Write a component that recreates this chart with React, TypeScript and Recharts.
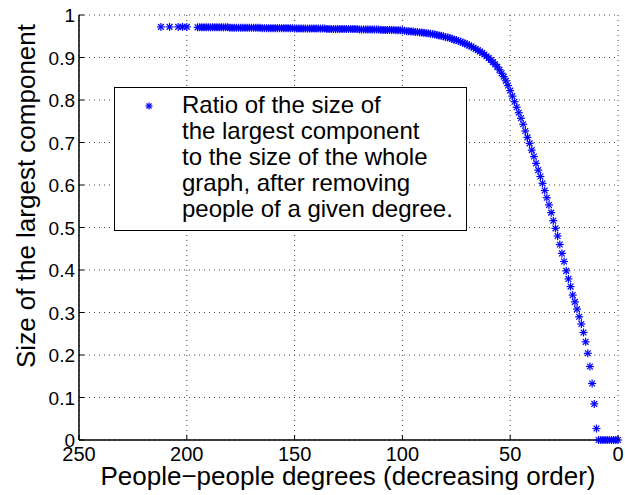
import React from "react";
import {
  ScatterChart,
  Scatter,
  XAxis,
  YAxis,
  CartesianGrid,
  Legend,
} from "recharts";

// isolated high-degree points
const isolatedDegrees = [212, 208, 204, 202, 200];
const isolatedRatios = [0.972, 0.972, 0.972, 0.972, 0.972];

// consecutive degrees, starting at 195 and going down to 0
const firstDegree = 195;
const ratios = [
  // 195 .. 181
  0.971, 0.971, 0.971, 0.971, 0.971, 0.971, 0.971, 0.971, 0.971, 0.971, 0.971, 0.971, 0.971, 0.971, 0.971,
  // 180 .. 166
  0.97, 0.97, 0.97, 0.97, 0.97, 0.97, 0.97, 0.97, 0.97, 0.97, 0.97, 0.97, 0.97, 0.97, 0.97,
  // 165 .. 151
  0.969, 0.969, 0.969, 0.969, 0.969, 0.969, 0.969, 0.969, 0.969, 0.969, 0.969, 0.969, 0.969, 0.969, 0.969,
  // 150 .. 136
  0.968, 0.968, 0.968, 0.968, 0.968, 0.968, 0.968, 0.968, 0.968, 0.968, 0.968, 0.968, 0.968, 0.968, 0.968,
  // 135 .. 121
  0.967, 0.967, 0.967, 0.967, 0.967, 0.967, 0.967, 0.967, 0.967, 0.967, 0.967, 0.967, 0.967, 0.967, 0.967,
  // 120 .. 100
  0.966, 0.966, 0.966, 0.966, 0.966, 0.966, 0.966, 0.966, 0.966, 0.966,
  0.965, 0.965, 0.965, 0.965, 0.965, 0.965, 0.965,
  0.964, 0.964, 0.964, 0.964,
  // 99 .. 49
  0.963, 0.962, 0.962, 0.961, 0.961, 0.96, 0.96, 0.959, 0.959, 0.958,
  0.957, 0.957, 0.956, 0.955, 0.954, 0.953, 0.952, 0.951, 0.95, 0.948,
  0.947, 0.946, 0.944, 0.942, 0.941, 0.939, 0.937, 0.935, 0.933, 0.931,
  0.928, 0.926, 0.923, 0.92, 0.917, 0.914, 0.911, 0.907, 0.903, 0.899,
  0.894, 0.889, 0.884, 0.878, 0.871, 0.863, 0.855, 0.845, 0.834, 0.822,
  0.809,
  // 48 .. 10
  0.796, 0.783, 0.77, 0.757, 0.743, 0.727, 0.712, 0.698, 0.682, 0.667,
  0.651, 0.635, 0.62, 0.604, 0.587, 0.57, 0.553, 0.535, 0.516, 0.498,
  0.48, 0.46, 0.439, 0.42, 0.398, 0.379, 0.361, 0.341, 0.325, 0.308,
  0.29, 0.273, 0.253, 0.231, 0.204, 0.173, 0.133, 0.085, 0.027,
  // 9 .. 0
  0, 0, 0, 0, 0, 0, 0, 0, 0, 0,
];

const xTicks = [0, 50, 100, 150, 200, 250];
const yTicks = [0, 0.1, 0.2, 0.3, 0.4, 0.5, 0.6, 0.7, 0.8, 0.9, 1];

const legendLines = [
  "Ratio of the size of",
  "the largest component",
  "to the size of the whole",
  "graph, after removing",
  "people of a given degree.",
];

const data = [
  ...isolatedDegrees.map((d, i) => ({ deg: d, ratio: isolatedRatios[i] })),
  ...ratios.map((r, i) => ({ deg: firstDegree - i, ratio: r })),
];

const BLUE = "#0000ff";
const FONT = "'Liberation Sans', Arial, Helvetica, sans-serif";

function Star({ cx, cy, r = 4 }: any) {
  if (cx == null || cy == null) return null;
  const d = r * 0.72;
  return (
    <g stroke={BLUE} strokeWidth={1.2}>
      <line x1={cx - r} y1={cy} x2={cx + r} y2={cy} />
      <line x1={cx} y1={cy - r} x2={cx} y2={cy + r} />
      <line x1={cx - d} y1={cy - d} x2={cx + d} y2={cy + d} />
      <line x1={cx - d} y1={cy + d} x2={cx + d} y2={cy - d} />
    </g>
  );
}

const BottomTick = ({ x, y, payload }: any) => (
  <g>
    <line x1={x} x2={x} y1={y} y2={y - 5} stroke="#000" />
    <text x={x} y={y + 21} textAnchor="middle" fontSize={20} fontFamily={FONT} fill="#000">
      {payload.value}
    </text>
  </g>
);

const TopTick = ({ x, y }: any) => <line x1={x} x2={x} y1={y} y2={y + 5} stroke="#000" />;

const LeftTick = ({ x, y, payload }: any) => (
  <g>
    <line x1={x} x2={x + 5} y1={y} y2={y} stroke="#000" />
    <text x={x - 4} y={y + 7} textAnchor="end" fontSize={19} fontFamily={FONT} fill="#000">
      {String(payload.value)}
    </text>
  </g>
);

const RightTick = ({ x, y }: any) => <line x1={x} x2={x - 5} y1={y} y2={y} stroke="#000" />;

const LegendBox = () => (
  <div
    style={{
      position: "relative",
      width: 351,
      height: 142,
      border: "1px solid #000",
      background: "#fff",
      fontFamily: FONT,
      fontSize: 24,
      lineHeight: "26px",
      color: "#000",
      boxSizing: "content-box",
    }}
  >
    <svg width={20} height={20} style={{ position: "absolute", left: 24, top: 8 }}>
      <Star cx={10} cy={10} r={3.5} />
    </svg>
    <div style={{ position: "absolute", left: 67, top: 4, whiteSpace: "nowrap" }}>
      {legendLines.map((l) => (
        <div key={l}>{l}</div>
      ))}
    </div>
  </div>
);

export default function App() {
  return (
    <div style={{ position: "absolute", left: 0, top: 0, background: "#fff" }}>
      <ScatterChart width={625} height={495} margin={{ top: 15, right: 7, bottom: 0, left: 0 }}>
        <CartesianGrid stroke="#444" strokeDasharray="1 4" />
        <XAxis
          dataKey="deg"
          type="number"
          domain={[0, 250]}
          reversed
          ticks={xTicks}
          height={55}
          tickSize={0}
          tickMargin={0}
          tick={<BottomTick />}
          axisLine={{ stroke: "#000", strokeWidth: 1.5 }}
          tickLine={false}
          interval={0}
          label={{
            content: () => (
              <text x={348} y={485} textAnchor="middle" fontSize={26} fontFamily={FONT} fill="#000">
                People−people degrees (decreasing order)
              </text>
            ),
          }}
        />
        <XAxis
          xAxisId="top"
          orientation="top"
          type="number"
          domain={[0, 250]}
          reversed
          ticks={xTicks}
          height={0}
          tickSize={0}
          tickMargin={0}
          tick={<TopTick />}
          axisLine={{ stroke: "#000", strokeWidth: 1.5 }}
          tickLine={false}
          interval={0}
        />
        <YAxis
          dataKey="ratio"
          type="number"
          domain={[0, 1]}
          ticks={yTicks}
          width={79}
          tickSize={0}
          tickMargin={0}
          tick={<LeftTick />}
          axisLine={{ stroke: "#000", strokeWidth: 1.5 }}
          tickLine={false}
          interval={0}
          label={{
            content: () => (
              <text
                x={35}
                y={196}
                transform="rotate(-90 35 196)"
                textAnchor="middle"
                fontSize={26}
                fontFamily={FONT}
                fill="#000"
              >
                Size of the largest component
              </text>
            ),
          }}
        />
        <YAxis
          yAxisId="right"
          orientation="right"
          type="number"
          domain={[0, 1]}
          ticks={yTicks}
          width={0}
          tickSize={0}
          tickMargin={0}
          tick={<RightTick />}
          axisLine={{ stroke: "#000", strokeWidth: 1.5 }}
          tickLine={false}
          interval={0}
        />
        <Legend
          layout="horizontal"
          verticalAlign="middle"
          align="center"
          content={() => <LegendBox />}
          wrapperStyle={{ position: "absolute", left: 114, top: 87, width: 353, height: 144 }}
        />
        <Scatter
          name="ratio"
          data={data}
          fill={BLUE}
          shape={(p: any) => <Star cx={p.cx} cy={p.cy} />}
          isAnimationActive={false}
        />
      </ScatterChart>
    </div>
  );
}
